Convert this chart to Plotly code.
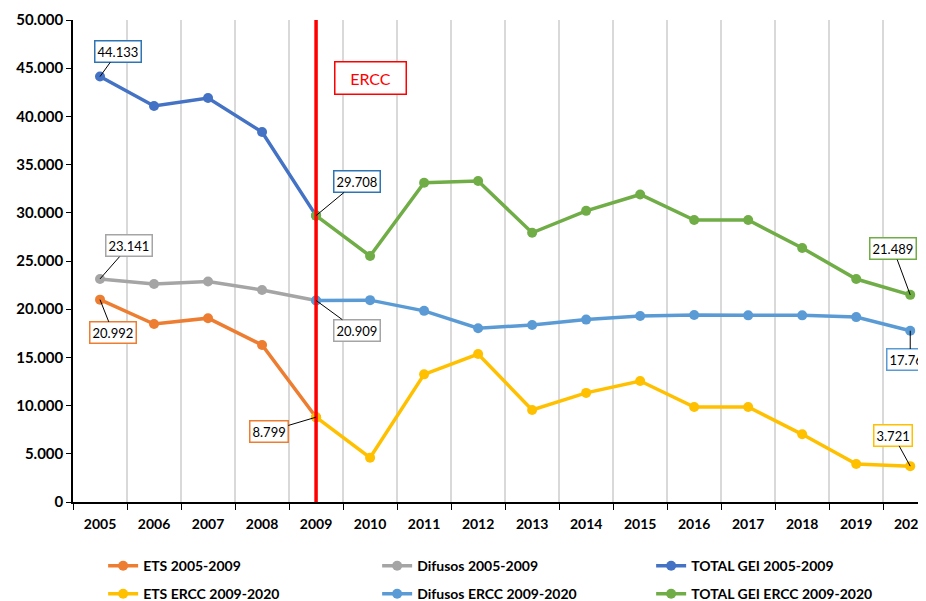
import plotly.graph_objects as go

YEARS = [str(y) for y in range(2005, 2021)]

YEARS_0509 = ["2005", "2006", "2007", "2008", "2009"]
YEARS_ERCC = [str(y) for y in range(2009, 2021)]

ets_0509 = [20992, 18460, 19070, 16290, 8799]
difusos_0509 = [23141, 22610, 22880, 21990, 20909]
total_0509 = [44133, 41080, 41900, 38380, 29708]

ets_ercc = [8799, 4600, 13240, 15350, 9540, 11320, 12550, 9850, 9850, 7020, 3940, 3721]
difusos_ercc = [20909, 20940, 19830, 18030, 18360, 18920, 19290, 19400, 19360, 19360, 19180, 17768]
total_ercc = [29708, 25520, 33110, 33300, 27930, 30200, 31900, 29250, 29250, 26350, 23130, 21489]

COLORS = {
    "ets": "#ED7D31",
    "difusos": "#A5A5A5",
    "total": "#4472C4",
    "ets_ercc": "#FFC000",
    "difusos_ercc": "#5B9BD5",
    "total_ercc": "#70AD47",
}

FONT = "Lato"


def fmt(v):
    return f"{v:,.0f}".replace(",", ".")


def line(x, y, name, color, legend):
    return go.Scatter(
        x=x, y=y, name=name, mode="lines+markers",
        line=dict(color=color, width=3.5),
        marker=dict(color=color, size=10),
        legend=legend,
    )


fig = go.Figure()
fig.add_trace(line(YEARS_0509, ets_0509, "ETS 2005-2009", COLORS["ets"], "legend"))
fig.add_trace(line(YEARS_0509, difusos_0509, "Difusos 2005-2009", COLORS["difusos"], "legend"))
fig.add_trace(line(YEARS_0509, total_0509, "TOTAL GEI 2005-2009", COLORS["total"], "legend"))
fig.add_trace(line(YEARS_ERCC, ets_ercc, "ETS ERCC 2009-2020", COLORS["ets_ercc"], "legend2"))
fig.add_trace(line(YEARS_ERCC, difusos_ercc, "Difusos ERCC 2009-2020", COLORS["difusos_ercc"], "legend2"))
fig.add_trace(line(YEARS_ERCC, total_ercc, "TOTAL GEI ERCC 2009-2020", COLORS["total_ercc"], "legend2"))

# ERCC start marker
fig.add_trace(go.Scatter(
    x=["2009", "2009"], y=[0, 50000], mode="lines",
    line=dict(color="#FF0000", width=3.5),
    showlegend=False, hoverinfo="skip",
))

# data labels: (year, value, border colour, ax, ay)
labels = [
    (YEARS_0509[0], total_0509[0], "#2E75B6", 18, -25),
    (YEARS_0509[0], difusos_0509[0], COLORS["difusos"], 29, -33),
    (YEARS_0509[0], ets_0509[0], COLORS["ets"], 13, 33),
    (YEARS_ERCC[0], ets_ercc[0], COLORS["ets"], -47, 14),
    (YEARS_ERCC[0], total_ercc[0], "#2E75B6", 41, -34),
    (YEARS_ERCC[0], difusos_ercc[0], COLORS["difusos"], 41, 30),
    (YEARS_ERCC[-1], total_ercc[-1], COLORS["total_ercc"], -17, -46),
    (YEARS_ERCC[-1], difusos_ercc[-1], COLORS["difusos_ercc"], 0, 29),
    (YEARS_ERCC[-1], ets_ercc[-1], COLORS["ets_ercc"], -17, -31),
]
for yr, v, c, ax, ay in labels:
    fig.add_annotation(
        x=YEARS.index(yr), y=v, xref="x", yref="y",
        text=fmt(v), showarrow=True, ax=ax, ay=ay,
        arrowhead=0, arrowwidth=1, arrowcolor="black", standoff=0,
        bgcolor="white", bordercolor=c, borderwidth=1.5, borderpad=2,
        font=dict(family=FONT, size=13, color="black"),
    )

fig.add_annotation(
    x=YEARS.index("2010"), y=44000, xref="x", yref="y", text="ERCC", showarrow=False,
    bgcolor="white", bordercolor="#FF0000", borderwidth=1.5, borderpad=6,
    width=58, font=dict(family=FONT, size=16, color="#FF0000"),
)

# page body adds an 8px offset; margins compensate so the plot sits where the original does
fig.update_layout(
    width=926, height=601,
    margin=dict(l=65, r=0, t=12, b=107, autoexpand=False),
    plot_bgcolor="white", paper_bgcolor="white",
    separators=",.",
    font=dict(family=FONT, color="black"),
    xaxis=dict(
        type="category", categoryorder="array", categoryarray=YEARS,
        range=[-0.5, 15.44], tickson="boundaries",
        showgrid=True, gridcolor="#D9D9D9", gridwidth=1.5,
        showline=True, linecolor="black", linewidth=1.5,
        ticks="outside", ticklen=6, tickcolor="black", ticklabelstandoff=8,
        tickfont=dict(family=FONT, size=14, weight="bold"),
    ),
    yaxis=dict(
        range=[0, 50000], dtick=5000, tickformat=",.0f",
        showgrid=False, zeroline=False,
        showline=True, linecolor="black", linewidth=1.5,
        ticks="outside", ticklen=5, tickcolor="black",
        tickfont=dict(family=FONT, size=15, weight="bold"),
    ),
    legend=dict(
        orientation="h", x=0.035, y=-0.1, xanchor="left", yanchor="top",
        entrywidth=229, entrywidthmode="pixels",
        font=dict(family=FONT, size=14, weight="bold"),
    ),
    legend2=dict(
        orientation="h", x=0.035, y=-0.158, xanchor="left", yanchor="top",
        entrywidth=229, entrywidthmode="pixels",
        font=dict(family=FONT, size=14, weight="bold"),
    ),
)

fig.write_html("out.html")
